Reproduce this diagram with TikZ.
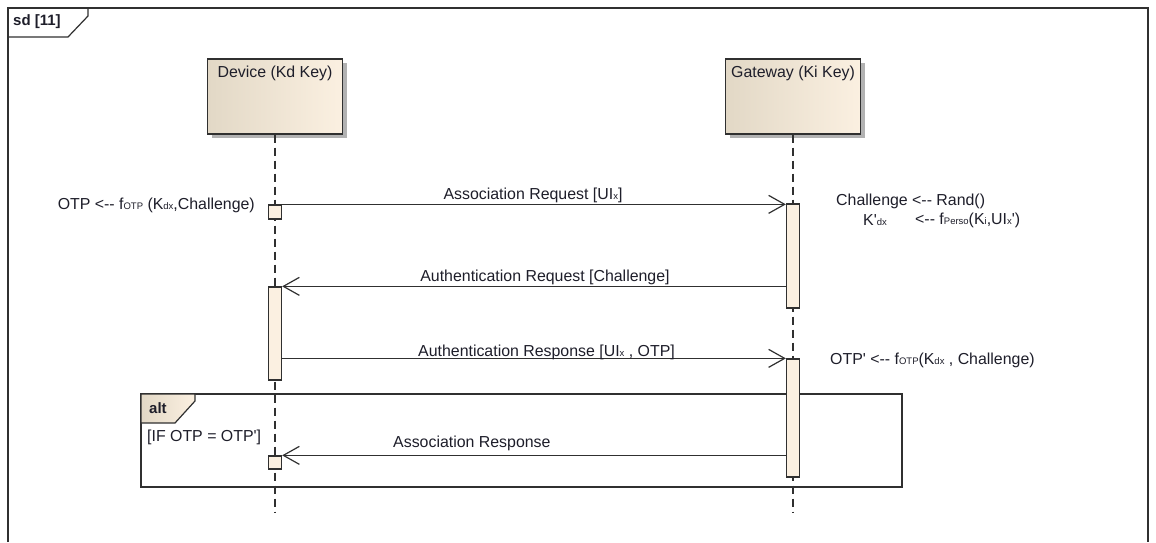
\documentclass[tikz,border=0pt]{standalone}
\usepackage{fontspec}
\setmainfont{Liberation Sans}
\newfontfamily\lsans{Liberation Sans}
\usetikzlibrary{arrows.meta,shadows}
\definecolor{lineC}{HTML}{303030}
\definecolor{boxL}{HTML}{E2D8C6}
\definecolor{boxR}{HTML}{FBF0E1}
\definecolor{actC}{HTML}{FBF0E1}
\definecolor{txtC}{HTML}{1E1E2A}
\newcommand{\sbx}[1]{{\fontsize{9.5}{10}\selectfont #1}}
\tikzset{
  lifebox/.style={draw=lineC, line width=1.4pt, left color=boxL, right color=boxR,
    minimum width=135pt, minimum height=75pt, inner sep=0pt,
    drop shadow={shadow xshift=4pt, shadow yshift=-4pt, fill=black!30, opacity=1}},
  lifeline/.style={draw=lineC, line width=1.2pt, dash pattern=on 8pt off 5pt},
  actbox/.style={draw=lineC, line width=1.3pt, fill=actC, minimum width=13pt, inner sep=0pt},
  msg/.style={draw=lineC, line width=1.2pt, -{Straight Barb[length=16pt,width=18pt,line width=1.2pt]}},
  lbl/.style={inner sep=0pt, text=txtC, font=\lsans\fontsize{15.9}{18}\selectfont},
  frameline/.style={draw=lineC, line width=1.2pt},
}
\begin{document}
\begin{tikzpicture}[x=1pt,y=-1pt]
\useasboundingbox (0,0) rectangle (1156,542);
\fill[white] (0,0) rectangle (1156,542);
% outer frame
\draw[frameline] (8,542) -- (8,8) -- (1148,8) -- (1148,542);
\draw[frameline] (88,8) -- (88,16) -- (68,37) -- (8,37);
\node[lbl, anchor=west, font=\lsans\fontsize{15}{18}\selectfont\bfseries] (sd) at (13,22) {sd [11]};
% lifeline heads
\node[lifebox] (dev) at (275,96.5) {};
\node[lifebox] (gw) at (793,96.5) {};
\node[lbl, anchor=north] (devt) at ([yshift=-7pt]dev.north) {Device (Kd Key)};
\node[lbl, anchor=north] (gwt) at ([yshift=-7pt]gw.north) {Gateway (Ki Key)};
\coordinate (devend) at (275,512);
\coordinate (gwend) at (793,512);
\draw[lifeline] (dev.south) -- (devend);
\draw[lifeline] (gw.south) -- (gwend);
% alt frame
\draw[frameline] (141,394) rectangle (902,487);
\draw[frameline, left color=boxL, right color=boxR] (141,394) -- (195,394) -- (195,401) -- (175,423) -- (141,423) -- cycle;
\node[lbl, anchor=west, font=\lsans\fontsize{15}{18}\selectfont\bfseries] (alt) at (149,408) {alt};
\node[lbl, anchor=west] (guard) at (147,437) {[IF OTP = OTP']};
% activations
\node[actbox, minimum height=14pt] (da1) at (275,212) {};
\node[actbox, minimum height=104pt] (ga1) at (793,256) {};
\node[actbox, minimum height=93pt] (da2) at (275,333.5) {};
\node[actbox, minimum height=118pt] (ga2) at (793,418) {};
\node[actbox, minimum height=13pt] (da3) at (275,462.5) {};
% messages
\draw[msg] (da1.north east) -- (da1.north east -| ga1.west);
\draw[msg] (da2.north east -| ga1.west) -- (da2.north east);
\draw[msg] (ga2.north west -| da2.east) -- (ga2.north west);
\draw[msg] (da3.north east -| ga2.west) -- (da3.north east);
% labels
\node[lbl] (m1) at (533,195) {Association Request [UI\sbx{x}]};
\node[lbl] (m2) at (545,277) {Authentication Request [Challenge]};
\node[lbl, anchor=west] (m3) at (418,352) {Authentication Response [UI\sbx{x} , OTP]};
\node[lbl, anchor=west] (m4) at (393,443) {Association Response};
\node[lbl, anchor=east] (n1) at (255,205) {OTP <-- f\sbx{OTP} (K\sbx{dx},Challenge)};
\node[lbl, anchor=west] (n2) at (836,201) {Challenge <-- Rand()};
\node[lbl, anchor=west] (n3) at (863,220) {K'\sbx{dx}};
\node[lbl, anchor=west] (n4) at (915,220) {<-- f\sbx{Perso}(K\sbx{i},UI\sbx{x}')};
\node[lbl, anchor=west] (n5) at (830,360) {OTP' <-- f\sbx{OTP}(K\sbx{dx} , Challenge)};
\end{tikzpicture}
\end{document}
